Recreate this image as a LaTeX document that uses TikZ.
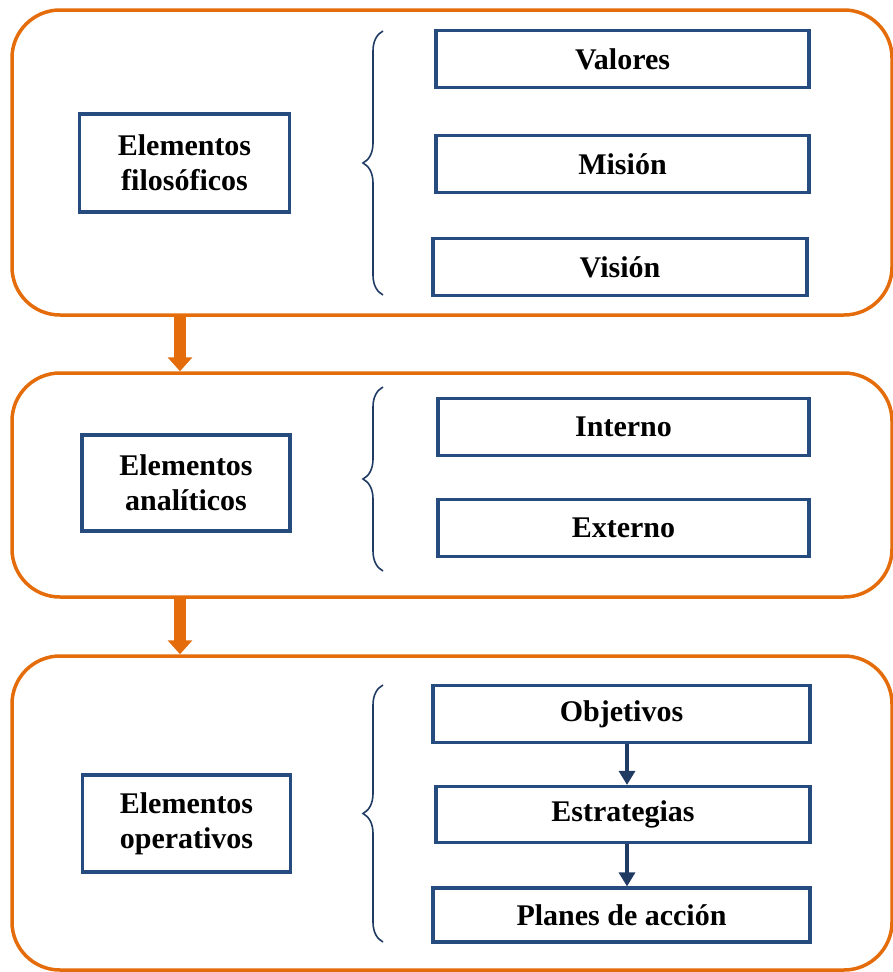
\documentclass[tikz,border=0pt]{standalone}
\usepackage{fontspec}
\setmainfont{Liberation Serif}
\usepackage{xcolor}
\usetikzlibrary{arrows, arrows.meta, decorations.pathreplacing}

\definecolor{naranja}{HTML}{E46C0A}
\definecolor{azul}{HTML}{264B7E}
\definecolor{azuloscuro}{HTML}{1F3A63}

\tikzset{
  etapa/.style={draw=naranja, line width=3.5pt, rounded corners=48pt, inner sep=0pt},
  caja/.style={draw=azul, line width=3.2pt, align=center, inner sep=0pt,
    font=\fontsize{30}{35}\selectfont\bfseries},
  llave/.style={draw=azuloscuro, line width=1.6pt,
    decorate, decoration={brace, amplitude=20pt}},
  flechagrande/.style={draw=naranja, line width=12pt, -{Triangle[width=24pt,length=14pt]}},
  flecha/.style={draw=azuloscuro, line width=3.2pt, -{Triangle[width=16pt,length=14pt]}}
}

\begin{document}
\begin{tikzpicture}[x=1pt, y=-1pt]
\useasboundingbox (0,0) rectangle (893,972);
% etapas
\node[etapa, minimum width=880pt, minimum height=305pt] (etapa1) at (452,162.5) {};
\node[etapa, minimum width=880pt, minimum height=224pt] (etapa2) at (452,485) {};
\node[etapa, minimum width=880pt, minimum height=314pt] (etapa3) at (452,813) {};
\draw[flechagrande] (etapa1.south -| 180,0) -- (etapa2.north -| 180,0);
\draw[flechagrande] (etapa2.south -| 180,0) -- (etapa3.north -| 180,0);
% cajas de la izquierda
\node[caja, minimum width=210pt, minimum height=98pt] (filosoficos) at (184.5,163) {Elementos\\filosóficos};
\node[caja, minimum width=208pt, minimum height=96pt] (analiticos) at (186,483) {Elementos\\analíticos};
\node[caja, minimum width=208pt, minimum height=97pt] (operativos) at (186.5,823.5) {Elementos\\operativos};
% llaves
\draw[llave] (383,295) -- (383,31);
\draw[llave] (383,571) -- (383,387);
\draw[llave] (383,942) -- (383,685);
% cajas de la derecha
\node[caja, minimum width=373pt, minimum height=57pt] (valores) at (622.5,59) {Valores};
\node[caja, minimum width=373pt, minimum height=57pt] (mision) at (622.5,164) {Misión};
\node[caja, minimum width=374pt, minimum height=57pt] (vision) at (620,267) {Visión};
\node[caja, minimum width=371pt, minimum height=57pt] (interno) at (623.5,427) {Interno};
\node[caja, minimum width=371pt, minimum height=57pt] (externo) at (623.5,528) {Externo};
\node[caja, minimum width=377pt, minimum height=57pt] (objetivos) at (621.5,714) {Objetivos};
\node[caja, minimum width=374pt, minimum height=56pt] (estrategias) at (623,814.5) {Estrategias};
\node[caja, minimum width=377pt, minimum height=54pt] (planes) at (621.5,915) {Planes de acción};
\draw[flecha] (objetivos.south -| 627,0) -- (estrategias.north -| 627,0);
\draw[flecha] (estrategias.south -| 627,0) -- (planes.north -| 627,0);
\end{tikzpicture}
\end{document}
